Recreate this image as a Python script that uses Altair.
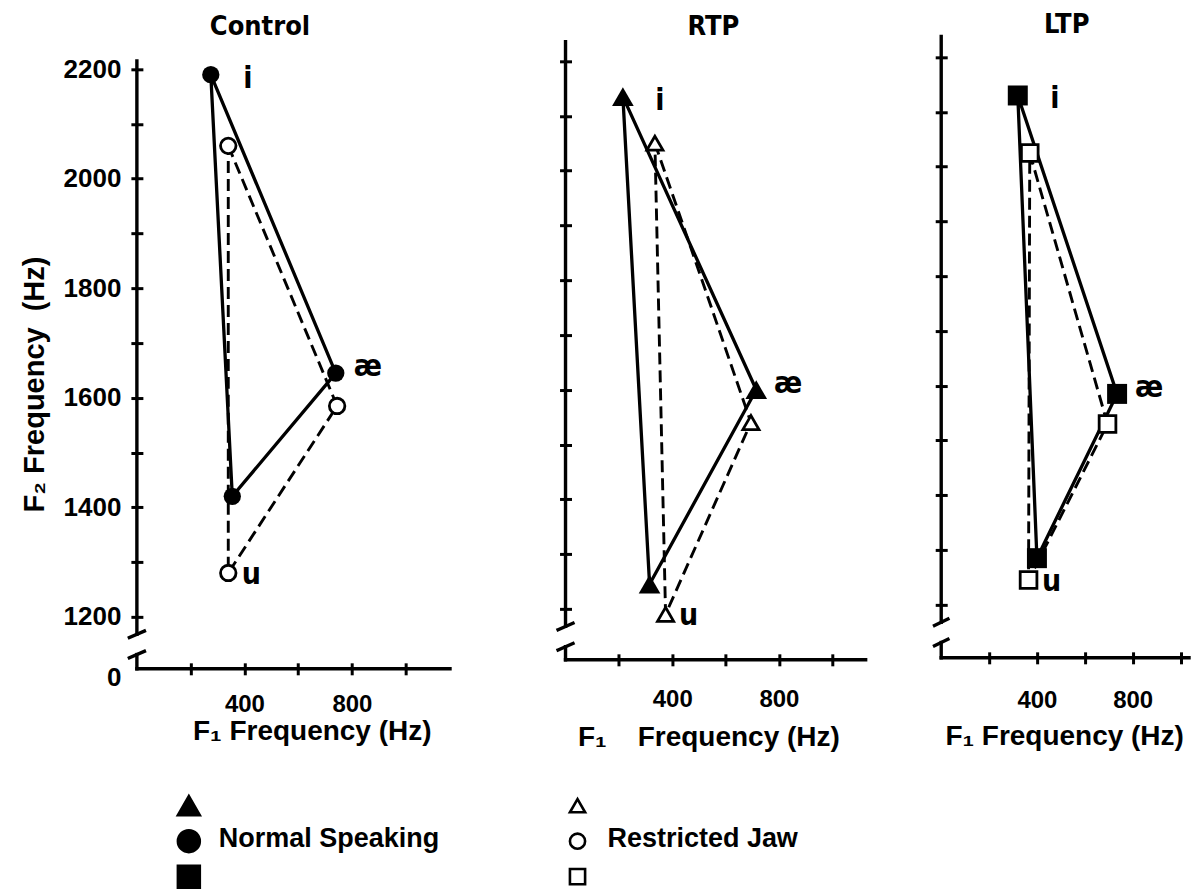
import altair as alt
import pandas as pd

# ---------------- data ----------------
vowels = ["i", "æ", "u"]
conditions = ["Normal Speaking", "Restricted Jaw"]
panel_names = ["Control", "RTP", "LTP"]
panel_shapes = ["circle", "triangle-up", "square"]

control_normal_f1 = [275, 740, 355]
control_normal_f2 = [2190, 1645, 1420]
control_jaw_f1 = [340, 745, 340]
control_jaw_f2 = [2060, 1585, 1280]

rtp_normal_f1 = [215, 715, 315]
rtp_normal_f2 = [2135, 1600, 1245]
rtp_jaw_f1 = [335, 695, 375]
rtp_jaw_f2 = [2050, 1540, 1190]

ltp_normal_f1 = [320, 735, 400]
ltp_normal_f2 = [2130, 1585, 1285]
ltp_jaw_f1 = [370, 695, 365]
ltp_jaw_f2 = [2025, 1530, 1245]

x_ticks = [200, 400, 600, 800, 1000]
x_tick_labels = [400, 800]
y_ticks = [1200, 1300, 1400, 1500, 1600, 1700, 1800, 1900, 2000, 2100, 2200]
y_tick_labels = [1200, 1400, 1600, 1800, 2000, 2200]

# which point each vowel label sits beside
vowel_label_condition = ["Normal Speaking", "Normal Speaking", "Restricted Jaw"]

legend_shapes = ["triangle-up", "circle", "square"]
legend_text_shape = "circle"

# ---------------- layout / style ----------------
FONT = "Liberation Sans, Arial, sans-serif"
FONT_N = "DejaVu Sans Condensed, Liberation Sans, sans-serif"
PX_PER_HZ_Y = 0.548

layout = {
    "Control": dict(px_x=0.269, width=429, y_lo=1105, y_hi=2260, axis_top=2215,
                    x_end=1165, title_dx=73, xtitle_x=175, label_pad=18, title_pad=1,
                    xtitle="F₁ Frequency (Hz)"),
    "RTP": dict(px_x=0.267, width=376, y_lo=1107, y_hi=2245, axis_top=2235,
                x_end=1125, title_dx=122, xtitle_x=143, label_pad=22, title_pad=12,
                xtitle="F₁\u00a0\u00a0\u00a0\u00a0Frequency (Hz)"),
    "LTP": dict(px_x=0.2395, width=248, y_lo=1103, y_hi=2238, axis_top=2238,
                x_end=None, title_dx=103, xtitle_x=123, label_pad=25, title_pad=10,
                xtitle="F₁ Frequency (Hz)"),
}
BREAK_HI = 1168     # centre of upper break slash (Hz)
BREAK_LO = 1131     # centre of lower break slash (Hz)
BREAK_HALF_X = 28   # half width of slash (Hz on F1 axis)
BREAK_HALF_Y = 6    # half rise of slash (Hz on F2 axis)

filled_size = {"circle": 300, "triangle-up": 470, "square": 400}
open_size = {"circle": 240, "triangle-up": 260, "square": 280}
label_dx = {"i": 37, "æ": 32, "u": 23}
label_dy = {"i": 4, "æ": -6, "u": 2}


def make_panel(name, n_f1, n_f2, j_f1, j_f2, shape, first):
    cfg = layout[name]
    rows = []
    for cond, f1s, f2s in ((conditions[0], n_f1, n_f2), (conditions[1], j_f1, j_f2)):
        for k, (v, a, b) in enumerate(zip(vowels, f1s, f2s)):
            rows.append(dict(condition=cond, vowel=v, order=k, F1=a, F2=b))
    df = pd.DataFrame(rows)

    x_max = cfg["width"] / cfg["px_x"]
    x_end = cfg["x_end"] if cfg["x_end"] is not None else x_max
    height = round((cfg["y_hi"] - cfg["y_lo"]) * PX_PER_HZ_Y)

    # axis lines with the break on the F2 axis
    axis_df = pd.DataFrame([
        dict(F1=0, F1b=0, F2=BREAK_HI, F2b=cfg["axis_top"]),
        dict(F1=0, F1b=0, F2=cfg["y_lo"], F2b=BREAK_LO),
        dict(F1=0, F1b=x_end, F2=cfg["y_lo"], F2b=cfg["y_lo"]),
        dict(F1=-BREAK_HALF_X, F1b=BREAK_HALF_X, F2=BREAK_HI - BREAK_HALF_Y, F2b=BREAK_HI + BREAK_HALF_Y),
        dict(F1=-BREAK_HALF_X, F1b=BREAK_HALF_X, F2=BREAK_LO - BREAK_HALF_Y, F2b=BREAK_LO + BREAK_HALF_Y),
    ])

    xs = alt.Scale(domain=[0, x_max], nice=False, zero=False)
    ys = alt.Scale(domain=[cfg["y_lo"], cfg["y_hi"]], nice=False, zero=False)

    x_axis = alt.Axis(
        values=x_ticks, format="d",
        labelExpr=f"indexof({x_tick_labels}, datum.value) >= 0 ? datum.label : ''",
        title=cfg["xtitle"], titleX=cfg["xtitle_x"], titleFont=FONT, titleFontSize=28,
        titleFontWeight="bold", titlePadding=cfg["title_pad"], titleColor="black",
        labelFont=FONT, labelFontSize=24, labelFontWeight="bold", labelColor="black",
        labelPadding=cfg["label_pad"], labelOverlap=False, labelFlush=False,
        domain=False, offset=-6, tickSize=12, tickWidth=3, tickColor="black", grid=False,
    )
    if first:
        y_axis = alt.Axis(
            values=[cfg["y_lo"]] + y_ticks, format="d",
            labelExpr=(f"datum.value < {y_ticks[0]} ? '0' : "
                       f"(indexof({y_tick_labels}, datum.value) >= 0 ? datum.label : '')"),
            labelOffset={"condition": {"test": f"datum.value < {y_ticks[0]}", "value": 9}, "value": 0},
            tickOpacity={"condition": {"test": f"datum.value < {y_ticks[0]}", "value": 0}, "value": 1},
            title="F₂ Frequency\u00a0\u00a0(Hz)", titleFont=FONT, titleFontSize=29,
            titleFontWeight="bold", titleColor="black", titlePadding=14, titleY=348,
            labelFont=FONT, labelFontSize=26, labelFontWeight="bold", labelColor="black",
            labelPadding=10, labelOverlap=False, labelFlush=False,
            domain=False, offset=-6, tickSize=12, tickWidth=3, tickColor="black", grid=False,
        )
    else:
        y_axis = alt.Axis(
            values=y_ticks, labels=False, title=None,
            domain=False, offset=-6, tickSize=12, tickWidth=3, tickColor="black", grid=False,
        )

    X = alt.X("F1:Q", scale=xs, axis=x_axis)
    Y = alt.Y("F2:Q", scale=ys, axis=y_axis)

    axes = alt.Chart(axis_df).mark_rule(color="black", strokeWidth=3.4, strokeCap="square").encode(
        x=X, x2="F1b:Q", y=Y, y2="F2b:Q")

    base = alt.Chart(df)
    normal_line = base.transform_filter(alt.datum.condition == conditions[0]).mark_line(
        color="black", strokeWidth=3.3, interpolate="linear-closed").encode(
        x=X, y=Y, order="order:Q")
    jaw_line = base.transform_filter(alt.datum.condition == conditions[1]).mark_line(
        color="black", strokeWidth=2.9, strokeDash=[12, 6], interpolate="linear-closed").encode(
        x=X, y=Y, order="order:Q")
    jaw_pts = base.transform_filter(alt.datum.condition == conditions[1]).mark_point(
        shape=shape, filled=True, fill="white", stroke="black", strokeWidth=2.8,
        size=open_size[shape], opacity=1).encode(x=X, y=Y)
    normal_pts = base.transform_filter(alt.datum.condition == conditions[0]).mark_point(
        shape=shape, filled=True, color="black", size=filled_size[shape], opacity=1).encode(x=X, y=Y)

    layers = [axes, normal_line, jaw_line, jaw_pts, normal_pts]
    for v, cond in zip(vowels, vowel_label_condition):
        layers.append(
            base.transform_filter((alt.datum.vowel == v) & (alt.datum.condition == cond))
            .mark_text(font=FONT_N, fontSize=30, fontWeight="bold", color="black",
                       align="center", baseline="middle", dx=label_dx[v], dy=label_dy[v])
            .encode(x=X, y=Y, text="vowel:N")
        )

    return alt.layer(*layers).properties(
        width=cfg["width"], height=height,
        title=alt.TitleParams(name, anchor="start", frame="group", dx=cfg["title_dx"], font=FONT_N,
                              fontSize=27, fontWeight="bold", color="black", offset=-5),
    )


p1 = make_panel("Control", control_normal_f1, control_normal_f2, control_jaw_f1, control_jaw_f2,
                panel_shapes[0], True)
p2 = make_panel("RTP", rtp_normal_f1, rtp_normal_f2, rtp_jaw_f1, rtp_jaw_f2, panel_shapes[1], False)
p3 = make_panel("LTP", ltp_normal_f1, ltp_normal_f2, ltp_jaw_f1, ltp_jaw_f2, panel_shapes[2], False)

# ---------------- legend ----------------
leg_df = pd.DataFrame([dict(condition=c, shape=s) for c in conditions for s in legend_shapes])
lx = alt.X("condition:N", scale=alt.Scale(domain=conditions, range=[52, 441], padding=0), axis=None)
ly = alt.Y("shape:N", scale=alt.Scale(domain=legend_shapes, range=[34, 105], padding=0), axis=None)
leg_syms = alt.Chart(leg_df).mark_point(filled=True, stroke="black", strokeWidth=2.6, opacity=1).encode(
    x=lx, y=ly,
    shape=alt.Shape("shape:N", scale=alt.Scale(domain=legend_shapes, range=legend_shapes), legend=None),
    fill=alt.Fill("condition:N", scale=alt.Scale(domain=conditions, range=["black", "white"]), legend=None),
    size=alt.Size("condition:O", scale=alt.Scale(domain=conditions, range=[480, 230]), legend=None),
)
leg_text = alt.Chart(leg_df).transform_filter(alt.datum.shape == legend_text_shape).mark_text(
    align="left", baseline="middle", dx=30, dy=-2, font=FONT, fontSize=27, fontWeight="bold",
    color="black").encode(x=lx, y=ly, text="condition:N")
legend = alt.layer(leg_syms, leg_text).properties(width=800, height=115)

top = alt.hconcat(p1, p2, p3, spacing=0, bounds="flush")
chart = alt.vconcat(top, legend, spacing=20).properties(
    padding={"left": 20, "top": 10, "right": 0, "bottom": 0}
).configure_view(stroke=None)

chart.save("out.html", embed_options={"renderer": "svg", "actions": False})
